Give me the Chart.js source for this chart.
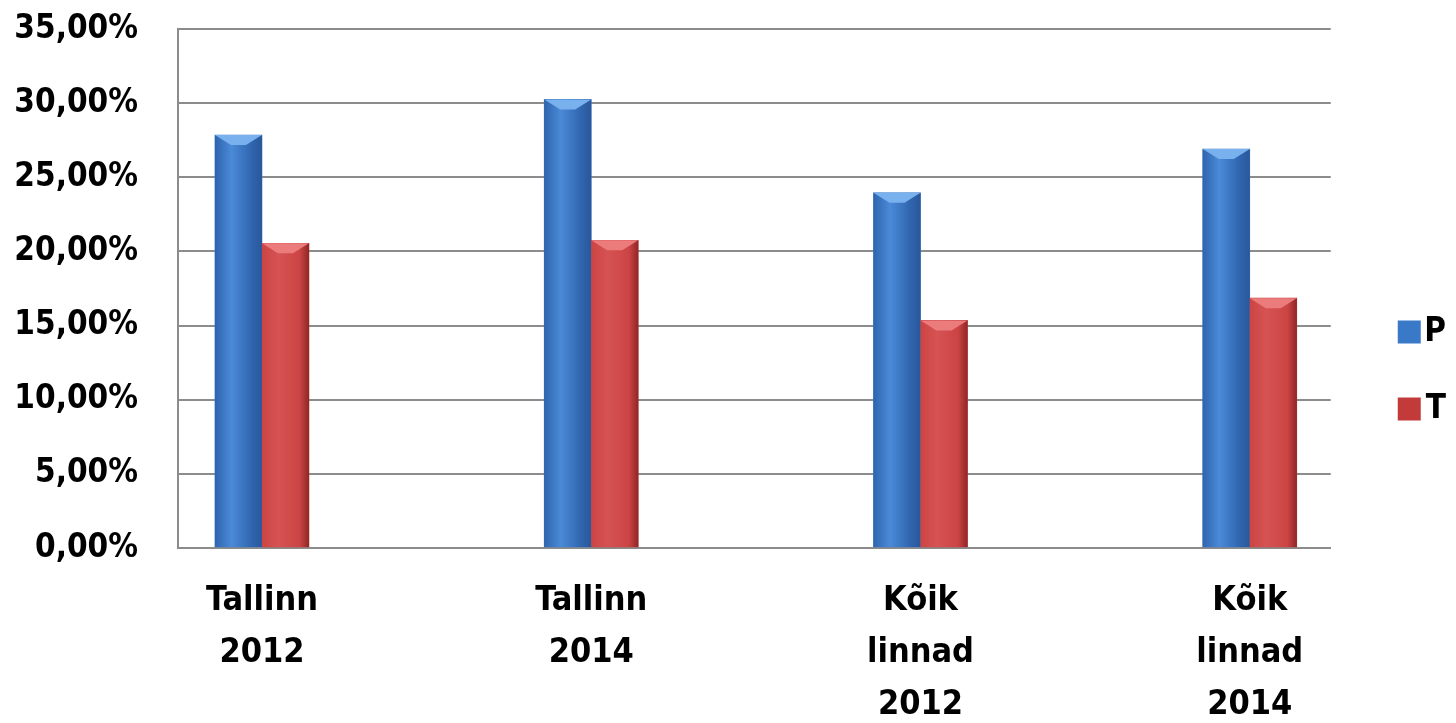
<!DOCTYPE html>
<html>
<head>
<meta charset="utf-8">
<script src="https://cdn.jsdelivr.net/npm/chart.js@4"></script>
<style>
  html, body { margin: 0; padding: 0; background: #fff; }
  #wrap { width: 1456px; height: 723px; }
</style>
</head>
<body>
<div id="wrap"><canvas id="myBarChart"></canvas></div>
<script>
// categories and values (percent)
var categories = [["Tallinn", "2012"], ["Tallinn", "2014"], ["Kõik", "linnad", "2012"], ["Kõik", "linnad", "2014"]];
var seriesNames = ["P", "T"];
var valuesP = [27.85, 30.25, 23.95, 26.9];
var valuesT = [20.55, 20.75, 15.35, 16.85];
var yTicks = [0, 5, 10, 15, 20, 25, 30, 35];

var FONT = "'DejaVu Sans Condensed', 'DejaVu Sans', sans-serif";

function points(vals) {
    return vals.map(function (v, i) { return { x: i, y: v }; });
}

// paints each bar with a cylinder-like shade and a bevelled top
var barShade = {
    id: "barShade",
    afterDatasetsDraw: function (chart) {
        var c = chart.ctx;
        var shades = [
            { l: "#2f64ad", m: "#4a8ad8", r: "#2a5799", top: "#79b0ee" },
            { l: "#cc4444", m: "#d65353", r: "#902626", top: "#ec7b7b" }
        ];
        chart.data.datasets.forEach(function (ds, di) {
            var meta = chart.getDatasetMeta(di);
            var s = shades[di];
            meta.data.forEach(function (bar) {
                var p = bar.getProps(["x", "y", "base", "width"], true);
                var x0 = p.x - p.width / 2, x1 = p.x + p.width / 2;
                var g = c.createLinearGradient(x0, 0, x1, 0);
                g.addColorStop(0, s.l);
                g.addColorStop(0.35, s.m);
                g.addColorStop(0.8, s.l);
                g.addColorStop(1, s.r);
                c.save();
                c.fillStyle = g;
                c.fillRect(x0, p.y, p.width, p.base - p.y);
                // bevel on top
                var h = 10;
                c.fillStyle = s.top;
                c.beginPath();
                c.moveTo(x0, p.y);
                c.lineTo(x1, p.y);
                c.lineTo(x1 - h * 1.6, p.y + h);
                c.lineTo(x0 + h * 1.6, p.y + h);
                c.closePath();
                c.fill();
                c.restore();
            });
        });
    }
};

// legend boxes sit further right than the library puts them
var legendNudge = {
    id: "legendNudge",
    afterLayout: function (chart) {
        chart.legend.left += 23;
    }
};

var ctx = document.getElementById("myBarChart");
var chart = new Chart(ctx, {
    type: "bar",
    data: {
        datasets: [{
            label: seriesNames[0],
            data: points(valuesP),
            backgroundColor: "#3a78c8",
            barThickness: 47
        }, {
            label: seriesNames[1],
            data: points(valuesT),
            backgroundColor: "#c23a3a",
            barThickness: 47
        }]
    },
    options: {
        responsive: true,
        maintainAspectRatio: false,
        animation: false,
        layout: { padding: { top: 18, left: 0, right: 10, bottom: 0 } },
        plugins: {
            tooltip: { enabled: false },
            legend: {
                position: "right",
                labels: {
                    boxWidth: 23,
                    boxHeight: 23,
                    padding: 44,
                    textAlign: "right",
                    color: "#000",
                    font: { family: FONT, size: 33, weight: "bold" }
                }
            }
        },
        scales: {
            x: {
                type: "linear",
                min: -0.255,
                max: 3.246,
                offset: false,
                afterBuildTicks: function (scale) {
                    scale.ticks = categories.map(function (_, i) { return { value: i }; });
                },
                afterFit: function (scale) {
                    scale.height = 175;
                    scale.paddingLeft = 0;
                    scale.paddingRight = 0;
                },
                grid: { display: false, drawTicks: false },
                border: { display: true, color: "#8c8c8c", width: 2 },
                ticks: {
                    autoSkip: false,
                    maxRotation: 0,
                    padding: 27,
                    color: "#000",
                    font: { family: FONT, size: 34, weight: "bold", lineHeight: 1.53 },
                    callback: function (v) { return categories[v]; }
                }
            },
            y: {
                min: 0,
                max: 35,
                afterBuildTicks: function (scale) {
                    scale.ticks = yTicks.map(function (v) { return { value: v }; });
                },
                afterFit: function (scale) {
                    scale.width = 178;
                    scale.paddingTop = 29;
                    scale.paddingBottom = 0;
                },
                grid: { color: "#8c8c8c", lineWidth: 2, drawTicks: false },
                border: { display: true, color: "#8c8c8c", width: 2 },
                ticks: {
                    padding: 40,
                    color: "#000",
                    font: { family: FONT, size: 33, weight: "bold" },
                    callback: function (v) { return v.toFixed(2).replace(".", ",") + "%"; }
                }
            }
        }
    },
    plugins: [barShade, legendNudge]
});
</script>
</body>
</html>
